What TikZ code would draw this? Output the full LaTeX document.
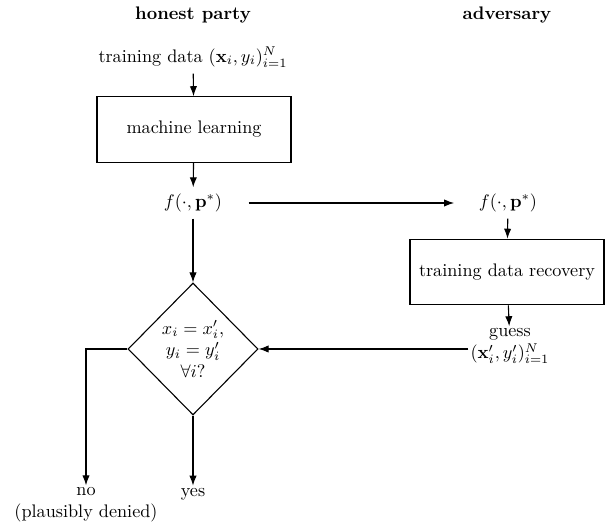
\documentclass[tikz,border=0pt]{standalone}
\usetikzlibrary{shapes.geometric,arrows.meta}
\begin{document}
\begin{tikzpicture}[x=0.55pt,y=-0.55pt,
  every path/.style={line width=0.6pt},
  arr/.style={-{Latex[length=5.5pt,width=4pt]}},
  procbox/.style={draw, line width=0.6pt, minimum width=106.7pt, minimum height=36pt, inner sep=0pt},
  decide/.style={draw, line width=0.6pt, diamond, inner sep=0pt, minimum width=71.5pt, minimum height=72.6pt, align=center}]
\useasboundingbox (0,0) rectangle (605,529);
\node (hp) at (193,15) {\textbf{honest party}};
\node (adv) at (507,15) {\textbf{adversary}};
\node (train) at (193,57) {training data $(\mathbf{x}_i,y_i)_{i=1}^N$};
\node[procbox] (ml) at (194,129.5) {machine learning};
\node (f) at (193,203) {$f(\cdot,\mathbf{p}^*)$};
\node (f2) at (508,203) {$f(\cdot,\mathbf{p}^*)$};
\node[procbox] (tdr) at (507,272) {training data recovery};
\node[align=center, inner sep=1pt] (guess) at (510,346) {guess\\$(\mathbf{x}'_i,y'_i)_{i=1}^N$};
\node[decide] (d) at (193,349) {$x_i=x'_i,$\\$y_i=y'_i$\\$\forall i?$};
\node[align=center, inner sep=1pt] (no) at (86,505) {no\\(plausibly denied)};
\node[inner sep=1pt] (yes) at (193,494) {yes};
\draw[arr] (train) -- (ml);
\draw[arr] (ml) -- (f);
\draw[arr, shorten <=11pt, shorten >=10pt] (f) -- (f2);
\draw[arr] (f2) -- (tdr);
\draw[arr] (tdr) -- (guess);
\draw[arr] (f) -- (d.north);
\draw[arr] (guess.west |- d.east) -- (d.east);
\draw[arr] (d.west) -| (no.north);
\draw[arr] (d.south) -- (yes.north);
\end{tikzpicture}
\end{document}
